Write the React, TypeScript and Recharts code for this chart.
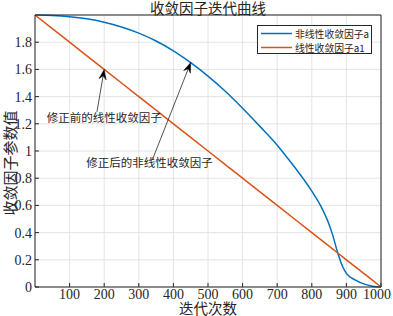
import React from 'react';
import { LineChart, Line, XAxis, YAxis, CartesianGrid, ReferenceLine, ReferenceDot } from 'recharts';

const iterations = [0, 50, 100, 150, 200, 250, 300, 350, 400, 450, 500, 550, 600, 650, 700, 750, 800, 825, 850, 860, 875, 890, 900, 925, 950, 975, 1000];
const nonlinearA = [2, 1.997, 1.988, 1.972, 1.947, 1.912, 1.867, 1.809, 1.737, 1.65, 1.551, 1.439, 1.314, 1.181, 1.043, 0.882, 0.705, 0.6, 0.46, 0.385, 0.25, 0.145, 0.1, 0.052, 0.023, 0.006, 0];
const linearA1 = [2, 1.9, 1.8, 1.7, 1.6, 1.5, 1.4, 1.3, 1.2, 1.1, 1.0, 0.9, 0.8, 0.7, 0.6, 0.5, 0.4, 0.35, 0.3, 0.28, 0.25, 0.22, 0.2, 0.15, 0.1, 0.05, 0];
const xTicks = [100, 200, 300, 400, 500, 600, 700, 800, 900, 1000];
const yTicks = [0, 0.2, 0.4, 0.6, 0.8, 1, 1.2, 1.4, 1.6, 1.8];
const seriesNames = ['非线性收敛因子a', '线性收敛因子a1'];
const titleText = '收敛因子迭代曲线';
const xLabelText = '迭代次数';
const yLabelText = '收敛因子参数值';

const annotations = [
  { text: '修正前的线性收敛因子', from: { x: 179, y: 1.287 }, to: { x: 200, y: 1.6 }, textAt: { x: 200, y: 1.243 } },
  { text: '修正后的非线性收敛因子', from: { x: 339, y: 0.934 }, to: { x: 450, y: 1.65 }, textAt: { x: 331, y: 0.912 } },
];

const data = iterations.map((t, i) => ({ t, a: nonlinearA[i], a1: linearA1[i] }));

const BLUE = '#0072BD';
const ORANGE = '#D95319';
const INK = '#262626';
const SERIF = '"Liberation Serif", "DejaVu Serif", serif';
const CJK = '"Noto Sans CJK SC", sans-serif';

const ArrowShape = (props: any) => {
  const { x1, y1, x2, y2 } = props;
  if ([x1, y1, x2, y2].some((v) => typeof v !== 'number' || isNaN(v))) return <g />;
  const dx = x2 - x1;
  const dy = y2 - y1;
  const len = Math.sqrt(dx * dx + dy * dy) || 1;
  const ux = dx / len;
  const uy = dy / len;
  const nx = -uy;
  const ny = ux;
  const L = 10;
  const W = 3.6;
  const bx = x2 - L * ux;
  const by = y2 - L * uy;
  const kx = x2 - 0.65 * L * ux;
  const ky = y2 - 0.65 * L * uy;
  const d = `M${x2},${y2} L${bx + W * nx},${by + W * ny} L${kx},${ky} L${bx - W * nx},${by - W * ny} Z`;
  return (
    <g>
      <line x1={x1} y1={y1} x2={kx} y2={ky} stroke={INK} strokeWidth={0.8} />
      <path d={d} fill="#000" stroke="#000" strokeWidth={0.5} />
    </g>
  );
};

const XTick = (props: any) => {
  const { x, y, payload } = props;
  const shift = payload && payload.value === 1000 ? -4 : 0;
  return (
    <text x={x + shift} y={y} dy="0.71em" textAnchor="middle" fontSize={14} fontFamily={SERIF} fill={INK}>
      {payload ? payload.value : ''}
    </text>
  );
};

const Legend2 = () => (
  <svg style={{ position: 'absolute', left: 257, top: 25 }} width={116} height={29}>
    <rect x={0.5} y={0.5} width={114} height={28} fill="#fff" stroke={INK} strokeWidth={1} />
    {seriesNames.map((name, i) => (
      <g key={name}>
        <line x1={4} x2={35} y1={8.5 + i * 14} y2={8.5 + i * 14} stroke={i === 0 ? BLUE : ORANGE} strokeWidth={1.5} />
        <text x={38} y={8.5 + i * 14} dominantBaseline="central" fontSize={9.8} fontFamily={CJK} fill={INK}>
          {name}
        </text>
      </g>
    ))}
  </svg>
);

export default function App() {
  return (
    <div style={{ position: 'absolute', left: 0, top: 0, width: 393, height: 316, background: '#fff' }}>
      <LineChart width={393} height={316} data={data} margin={{ top: 0, right: 0, bottom: 0, left: 0 }}>
        <CartesianGrid xAxisId="b" yAxisId="l" stroke="#e4e4e4" strokeWidth={1} />
        <XAxis
          xAxisId="b"
          dataKey="t"
          type="number"
          domain={[0, 1000]}
          ticks={xTicks}
          interval={0}
          height={29}
          tickSize={-4}
          tickMargin={6}
          axisLine={{ stroke: INK, strokeWidth: 1 }}
          tickLine={{ stroke: INK }}
          tick={XTick}
          label={{
            content: (p: any) => {
              const vb = p.viewBox || {};
              return (
                <text x={vb.x + vb.width / 2} y={314} textAnchor="middle" fontSize={14.5} fontFamily={CJK} fill={INK}>
                  {xLabelText}
                </text>
              );
            },
          }}
        />
        <XAxis
          xAxisId="t"
          orientation="top"
          dataKey="t"
          type="number"
          domain={[0, 1000]}
          ticks={xTicks}
          interval={0}
          height={15}
          tickSize={-4}
          tick={false}
          axisLine={{ stroke: INK, strokeWidth: 1 }}
          tickLine={{ stroke: INK }}
          label={{
            content: (p: any) => {
              const vb = p.viewBox || {};
              return (
                <text x={vb.x + vb.width / 2} y={14} textAnchor="middle" fontSize={14.5} fontFamily={CJK} fill={INK}>
                  {titleText}
                </text>
              );
            },
          }}
        />
        <YAxis
          yAxisId="l"
          type="number"
          domain={[0, 2]}
          ticks={yTicks}
          interval={0}
          width={35}
          tickSize={-4}
          tickMargin={7}
          axisLine={{ stroke: INK, strokeWidth: 1 }}
          tickLine={{ stroke: INK }}
          tick={{ fill: INK, fontSize: 14, fontFamily: SERIF }}
          label={{
            content: (p: any) => {
              const vb = p.viewBox || {};
              const cx = 9;
              const cy = vb.y + vb.height / 2 + 12;
              return (
                <text x={cx} y={cy} transform={`rotate(-90 ${cx} ${cy})`} textAnchor="middle" dominantBaseline="central" fontSize={15} fontFamily={CJK} fill={INK}>
                  {yLabelText}
                </text>
              );
            },
          }}
        />
        <YAxis
          yAxisId="r"
          orientation="right"
          type="number"
          domain={[0, 2]}
          ticks={yTicks}
          interval={0}
          width={12}
          tickSize={-4}
          tick={false}
          axisLine={{ stroke: INK, strokeWidth: 1 }}
          tickLine={{ stroke: INK }}
        />
        <Line
          xAxisId="b"
          yAxisId="l"
          type="monotone"
          dataKey="a"
          name={seriesNames[0]}
          stroke={BLUE}
          strokeWidth={1.5}
          dot={false}
          activeDot={false}
          isAnimationActive={false}
        />
        <Line
          xAxisId="b"
          yAxisId="l"
          type="linear"
          dataKey="a1"
          name={seriesNames[1]}
          stroke={ORANGE}
          strokeWidth={1.5}
          dot={false}
          activeDot={false}
          isAnimationActive={false}
        />
        {annotations.map((an) => (
          <ReferenceLine
            key={an.text + 'arrow'}
            xAxisId="b"
            yAxisId="l"
            segment={[an.from, an.to]}
            ifOverflow="visible"
            shape={ArrowShape}
          />
        ))}
        {annotations.map((an) => (
          <ReferenceDot
            key={an.text + 'label'}
            xAxisId="b"
            yAxisId="l"
            x={an.textAt.x}
            y={an.textAt.y}
            r={0}
            fill="none"
            stroke="none"
            ifOverflow="visible"
            label={{ value: an.text, position: 'center', fontSize: 11.5, fontFamily: CJK, fill: INK }}
          />
        ))}
      </LineChart>
      <Legend2 />
    </div>
  );
}
